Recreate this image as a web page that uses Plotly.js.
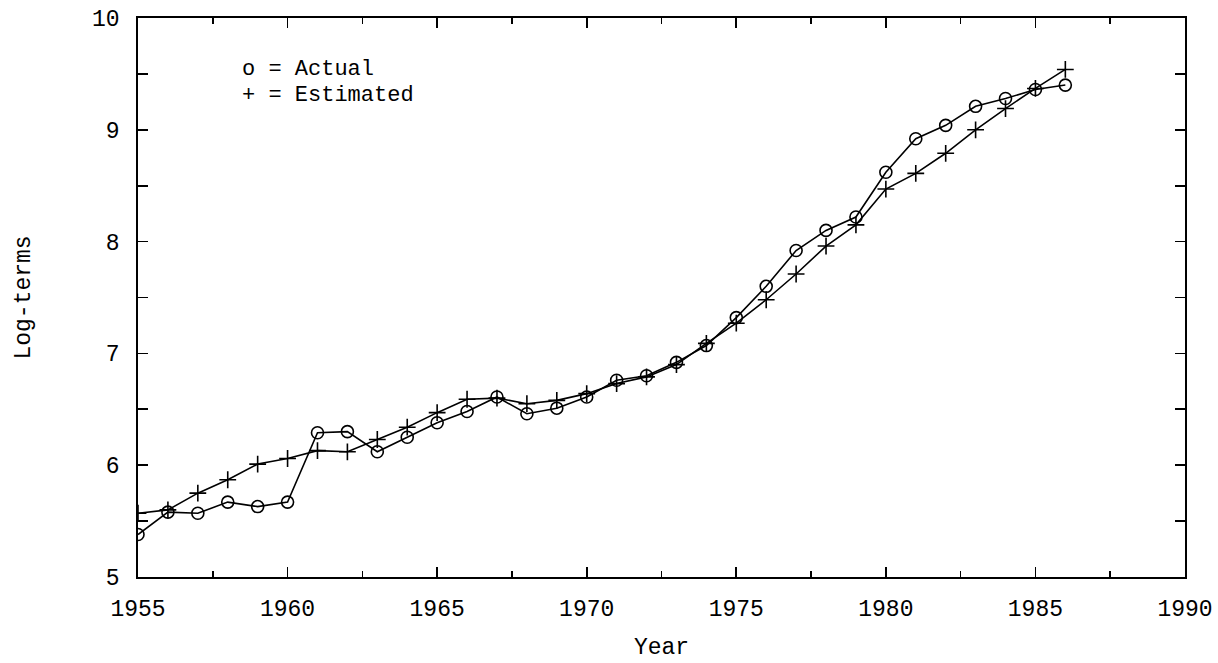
<!DOCTYPE html>
<html>
<head>
<meta charset="utf-8">
<script src="https://cdn.plot.ly/plotly-3.0.1.min.js"></script>
<style>html,body{margin:0;padding:0;background:#fff;}#chart{width:1218px;height:663px;}</style>
</head>
<body>
<div id="chart"></div>
<script>
const years = [1955,1956,1957,1958,1959,1960,1961,1962,1963,1964,1965,1966,1967,1968,1969,1970,
               1971,1972,1973,1974,1975,1976,1977,1978,1979,1980,1981,1982,1983,1984,1985,1986];
const actual = [5.38,5.58,5.57,5.67,5.63,5.67,6.29,6.30,6.12,6.25,6.38,6.48,6.61,6.46,6.51,6.61,
                6.76,6.80,6.92,7.07,7.32,7.60,7.92,8.10,8.22,8.62,8.92,9.04,9.21,9.28,9.36,9.40];
const estimated = [5.57,5.60,5.75,5.87,6.01,6.06,6.13,6.12,6.23,6.34,6.47,6.59,6.60,6.55,6.58,6.64,
                   6.73,6.79,6.90,7.09,7.27,7.48,7.71,7.96,8.15,8.47,8.61,8.79,9.00,9.19,9.37,9.54];
const xTicks = [1955,1960,1965,1970,1975,1980,1985,1990];
const yTicks = [5,6,7,8,9,10];

const mono = "Liberation Mono, DejaVu Sans Mono, monospace";
const traces = [
  {x: years, y: actual, mode: 'lines+markers', name: 'Actual',
   line: {color: '#000', width: 1.6},
   marker: {symbol: 'circle-open', size: 12, color: '#000', line: {width: 1.6, color: '#000'}}},
  {x: years, y: estimated, mode: 'lines+markers', name: 'Estimated',
   line: {color: '#000', width: 1.6},
   marker: {symbol: 'cross-thin-open', size: 12, color: '#000', line: {width: 1.6, color: '#000'}}}
];
const axisCommon = {
  showline: true, linecolor: '#000', linewidth: 1.8, mirror: 'ticks',
  ticks: 'inside', ticklen: 10, tickwidth: 1.6, tickcolor: '#000',
  showgrid: false, zeroline: false,
  tickfont: {family: mono, size: 23, color: '#000'}
};
const layout = {
  width: 1218, height: 663,
  margin: {l: 138, r: 33, t: 18, b: 86},
  paper_bgcolor: '#fff', plot_bgcolor: '#fff',
  showlegend: false,
  xaxis: Object.assign({}, axisCommon, {
    range: [1955, 1990], tickmode: 'array', tickvals: xTicks, ticktext: xTicks.map(String),
    ticklabelstandoff: 10,
    minor: {dtick: 2.5, tick0: 1955, ticks: 'inside', ticklen: 6, tickwidth: 1.6, tickcolor: '#000'},
    title: {text: 'Year', font: {family: mono, size: 23, color: '#000'}, standoff: 15}
  }),
  yaxis: Object.assign({}, axisCommon, {
    range: [5, 10], tickmode: 'array', tickvals: yTicks, ticktext: yTicks.map(String),
    ticklabelstandoff: 12,
    minor: {dtick: 0.5, tick0: 5, ticks: 'inside', ticklen: 10, tickwidth: 1.6, tickcolor: '#000'},
    title: {text: 'Log-terms', font: {family: mono, size: 23, color: '#000'}, standoff: 55}
  }),
  annotations: [
    {xref: 'paper', yref: 'paper', x: 0.097, y: 0.907, xanchor: 'left', yanchor: 'middle', showarrow: false,
     text: 'o = Actual', font: {family: mono, size: 22, color: '#000'}},
    {xref: 'paper', yref: 'paper', x: 0.097, y: 0.862, xanchor: 'left', yanchor: 'middle', showarrow: false,
     text: '+ = Estimated', font: {family: mono, size: 22, color: '#000'}}
  ]
};
Plotly.newPlot('chart', traces, layout, {displayModeBar: false, staticPlot: true});
</script>
</body>
</html>
